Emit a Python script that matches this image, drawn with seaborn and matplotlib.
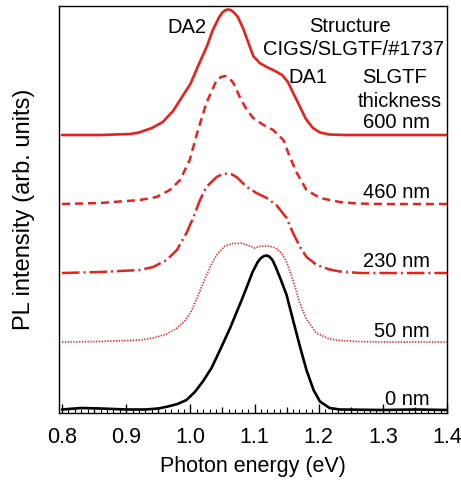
import matplotlib
matplotlib.use("Agg")
import matplotlib.pyplot as plt
import seaborn as sns
import numpy as np

# ---------------- data ----------------
e600 = [0.80, 0.86, 0.906, 0.92, 0.94, 0.957, 0.973, 0.987, 1.0, 1.012, 1.026, 1.035, 1.045,
        1.050, 1.055, 1.059, 1.063, 1.068, 1.074, 1.082, 1.09, 1.098, 1.108, 1.119, 1.132,
        1.143, 1.152, 1.161, 1.171, 1.18, 1.191, 1.202, 1.217, 1.24, 1.30, 1.35, 1.40]
i600 = [0, 0, 1, 2.5, 7, 13, 24, 38, 51, 69, 89, 105, 118,
        122.5, 125, 125.5, 125, 122.5, 118, 107, 93, 79, 72, 68, 64,
        60, 53, 41, 28, 16, 7, 2.5, 0.5, 0, 0, 0, 0]

e460 = [0.80, 0.859, 0.9215, 0.9475, 0.968, 0.984, 0.999, 1.012, 1.025, 1.041, 1.048, 1.054,
        1.060, 1.067, 1.077, 1.088, 1.098, 1.114, 1.129, 1.145, 1.155, 1.166, 1.181, 1.202,
        1.233, 1.26, 1.30, 1.35, 1.40]
i460 = [0, 1, 4, 7, 14, 24, 44, 74, 101, 124, 127, 128,
        126.5, 121, 107, 94, 86, 79, 74, 64, 47, 31, 14, 6,
        2, 0.5, 0, 0, 0]

e230 = [0.80, 0.859, 0.9215, 0.942, 0.963, 0.979, 0.994, 1.005, 1.015, 1.025, 1.041, 1.050,
        1.057, 1.064, 1.072, 1.088, 1.103, 1.119, 1.134, 1.150, 1.160, 1.171, 1.181, 1.197,
        1.217, 1.233, 1.264, 1.30, 1.35, 1.40]
i230 = [0, 1, 3, 6, 13, 23, 40, 56, 73, 86, 96, 98.8,
        99.5, 98.8, 96, 86, 80, 75, 68, 55, 40, 26, 16, 8,
        3.5, 1.5, 0, 0, 0, 0]

e50 = [0.80, 0.859, 0.9215, 0.942, 0.963, 0.977, 0.990, 1.001, 1.011, 1.022, 1.033, 1.043,
       1.054, 1.066, 1.080, 1.095, 1.100, 1.105, 1.112, 1.122, 1.133, 1.142, 1.150, 1.161,
       1.170, 1.180, 1.196, 1.217, 1.233, 1.26, 1.30, 1.35, 1.40]
i50 = [0, 0.5, 2, 4, 8, 13, 20, 30, 45, 62, 78, 89,
       96, 98.5, 98.7, 95.5, 94, 95, 96, 96, 94, 89, 80, 60,
       40, 24, 9, 3, 1.5, 0.5, 0, 0, 0]

e0 = [0.80, 0.83, 0.86, 0.90, 0.93, 0.95, 0.965, 0.98, 0.994, 1.007, 1.02, 1.033, 1.047,
      1.062, 1.080, 1.088, 1.097, 1.105, 1.110, 1.115, 1.119, 1.123, 1.128, 1.133, 1.140,
      1.150, 1.160, 1.171, 1.181, 1.192, 1.202, 1.217, 1.233, 1.30, 1.35, 1.40]
i0 = [0.5, 2, 1.5, 0.5, 0.5, 1.5, 3.5, 6, 10, 18, 29, 42, 61,
      82, 110, 123, 138, 148, 152, 154, 154.5, 153.5, 150, 143, 132,
      115, 90, 63, 40, 20, 8.5, 2, 0.5, 0, 0.5, 0]

offsets = [278, 209, 140, 71, 3]          # vertical shift of each spectrum
labels = ["600 nm", "460 nm", "230 nm", "50 nm", "0 nm"]
xticks = [0.8, 0.9, 1.0, 1.1, 1.2, 1.3, 1.4]

# ---------------- plot ----------------
sns.set_theme(style="white")
plt.rcParams['font.family'] = ['Liberation Sans', 'DejaVu Sans']
plt.rcParams['text.color'] = 'black'
plt.rcParams['axes.labelcolor'] = 'black'
plt.rcParams['xtick.color'] = 'black'

fig = plt.figure(figsize=(4.61, 4.80), dpi=100)
ax = fig.add_axes([59 / 461, 1 - 413 / 480, (447 - 59) / 461, (413 - 6) / 480])

red = '#e8211d'
series = [(e600, i600), (e460, i460), (e230, i230), (e50, i50), (e0, i0)]
styles = [dict(color=red, lw=1.9, linestyle='-'),
          dict(color=red, lw=1.8, linestyle=(0, (3.2, 2.0))),
          dict(color=red, lw=1.8, linestyle=(0, (7, 1.6, 0.8, 1.6))),
          dict(color=red, lw=1.2, linestyle=(0, (0.8, 0.9))),
          dict(color='black', lw=1.9, linestyle='-')]

for (e, i), off, st in zip(series, offsets, styles):
    y = np.asarray(i) + off
    sns.lineplot(x=e, y=y, ax=ax, sort=False, estimator=None, **st)

ax.set_xlim(0.7953, 1.4)
ax.set_ylim(0, 407)

ax.set_xticks(xticks)
ax.set_xticklabels([f"{t:.1f}" for t in xticks])
ax.set_xticks(np.arange(0.8, 1.4001, 0.01), minor=True)
ax.tick_params(axis='x', which='major', direction='in', length=6.5, width=1.0,
               bottom=True, labelsize=15.5, pad=10, colors='black')
ax.tick_params(axis='x', which='minor', direction='in', length=3, width=0.8, bottom=True,
               colors='black')
ax.set_yticks([])

sec = ax.secondary_xaxis('bottom')
sec.set_xticks([0.85, 0.95, 1.05, 1.15, 1.25, 1.35])
sec.tick_params(direction='in', length=4.5, width=0.9, labelbottom=False, colors='black')
sec.spines['bottom'].set_visible(False)

for s in ax.spines.values():
    s.set_color('black')
    s.set_linewidth(1.0)

ax.set_xlabel("Photon energy (eV)", fontsize=15.5, labelpad=6, color='black')
ax.set_ylabel("PL intensity (arb. units)", fontsize=17, labelpad=17, color='black')

fs = 14.5
def px(x, yb):
    return 0.8 + (x - 62) / 642, 413 - yb

def put(txt, x, yb, ha='center'):
    ex, ey = px(x, yb)
    ax.text(ex, ey, txt, ha=ha, va='baseline', fontsize=fs, color='black')

put("DA2", 187, 33)
put("Structure", 350, 32)
put("CIGS/SLGTF/#1737", 353.5, 55)
put("DA1", 308, 83.3)
put("SLGTF", 395, 83.3)
put("thickness", 399.5, 106.7)
for lab, yb in zip(labels, [128.3, 198.3, 266.7, 336.7, 405]):
    put(lab, 430, yb, ha='right')

fig.savefig("out.png", dpi=100)
